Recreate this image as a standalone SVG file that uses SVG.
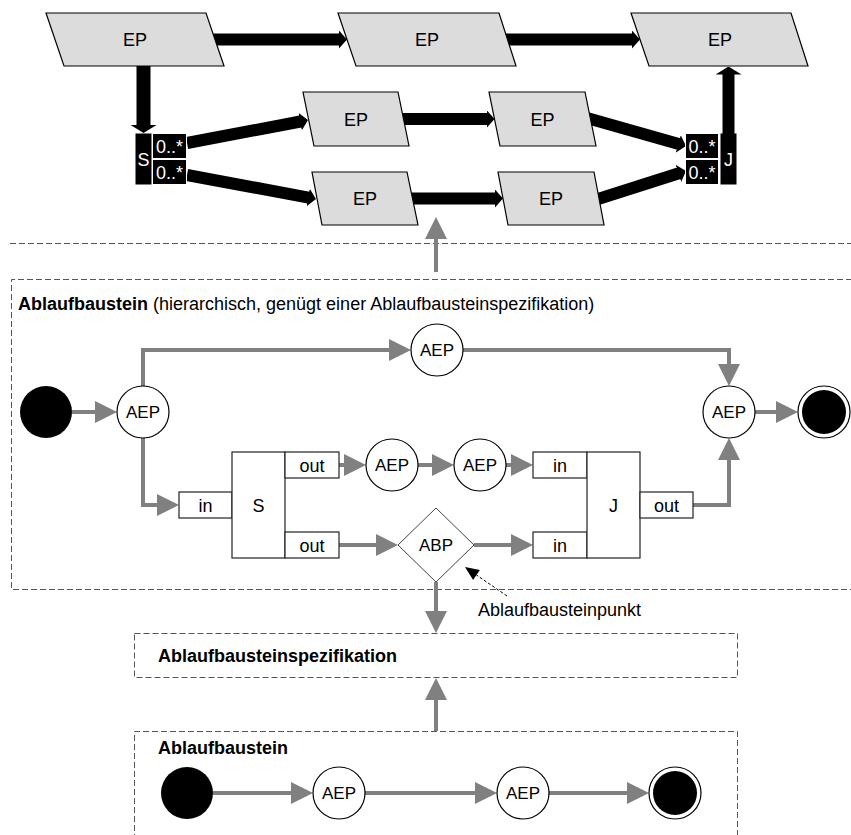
<svg xmlns="http://www.w3.org/2000/svg" width="851" height="835" viewBox="0 0 851 835">
<defs>
<style>
text{font-family:"Liberation Sans",Arial,Helvetica,sans-serif;font-size:18px;fill:#000}
.c{text-anchor:middle}
.w{fill:#fff}
.b{font-weight:bold}
.s17{font-size:17px}
.ep{fill:#dcdcdc;stroke:#000;stroke-width:1.2}
.blk{fill:#000;stroke:#fff;stroke-width:1}
.box{fill:#fff;stroke:#222;stroke-width:1.2}
.circ{fill:#fff;stroke:#000;stroke-width:1.2}
.dash{fill:none;stroke:#555;stroke-width:1;stroke-dasharray:6 3}
.thick{fill:none;stroke:#000;stroke-width:12;marker-end:url(#bh)}
.g{fill:none;stroke:#808080;stroke-width:4;marker-end:url(#ga)}
</style>
<marker id="ga" markerUnits="userSpaceOnUse" viewBox="0 0 22 22" markerWidth="22" markerHeight="22" refX="17" refY="11" orient="auto"><path d="M0,0 L22,11 L0,22 Z" fill="#808080"/></marker>
<marker id="bh" markerUnits="userSpaceOnUse" viewBox="0 0 8 18" markerWidth="8" markerHeight="18" refX="0.5" refY="9" orient="auto"><path d="M0,0 L8,9 L0,18 Z" fill="#000"/></marker>
<marker id="bv" markerUnits="userSpaceOnUse" viewBox="0 0 8 26" markerWidth="8" markerHeight="26" refX="0.5" refY="13" orient="auto"><path d="M0,0 L8,13 L0,26 Z" fill="#000"/></marker>
</defs>
<rect width="851" height="835" fill="#fff"/>

<g id="containers">
  <path class="dash" d="M10,243.5 H851"/>
  <path class="dash" d="M852,279.5 H11.5 V589.5 H852"/>
  <rect class="dash" x="134.5" y="633.5" width="603" height="44"/>
  <path class="dash" d="M134.5,840 V731.5 H737.5 V840"/>
</g>

<g id="connectors">
  <path class="thick" d="M210,39.5 H339.5"/>
  <path class="thick" d="M503,39.5 H632.5"/>
  <path d="M143.5,60 V125.5" fill="none" stroke="#000" stroke-width="14" marker-end="url(#bv)"/>
  <path d="M728.5,134 V74" fill="none" stroke="#000" stroke-width="12" marker-end="url(#bv)"/>
  <path class="thick" d="M187,143 L300.6,121.5"/>
  <path class="thick" d="M187,175 L308.6,197.6"/>
  <path class="thick" d="M400,119 H487"/>
  <path class="thick" d="M409,198.5 H495.5"/>
  <path class="thick" d="M587,118 L678.8,144"/>
  <path class="thick" d="M595,200 L678.9,173.3"/>

  <path class="g" d="M436,272 V222"/>
  <path class="g" d="M72,412 H112"/>
  <path class="g" d="M143,386 V350 H406"/>
  <path class="g" d="M463,350 H729 V381"/>
  <path class="g" d="M755,412 H793"/>
  <path class="g" d="M143,438 V505 H174"/>
  <path class="g" d="M339,465 H361"/>
  <path class="g" d="M418,465 H449"/>
  <path class="g" d="M506,465 H528"/>
  <path class="g" d="M693,505 H729 V443"/>
  <path class="g" d="M339,545 H393"/>
  <path class="g" d="M474,545 H528"/>
  <path class="g" d="M436,582 V628"/>
  <path class="g" d="M436,731 V683"/>
  <path class="g" d="M213,793 H308"/>
  <path class="g" d="M365,793 H492"/>
  <path class="g" d="M549,793 H644"/>

  <path d="M507,596 L476.5,575" fill="none" stroke="#000" stroke-width="1" stroke-dasharray="3 2"/>
  <polygon points="465,567 479.9,570.1 473.1,579.9" fill="#000"/>
</g>

<g id="ep1"><polygon class="ep" points="46,13 206,13 224,66 64,66"/><text class="c" x="135" y="46">EP</text></g>
<g id="ep2"><polygon class="ep" points="338,13 499,13 516,66 356,66"/><text class="c" x="427" y="46">EP</text></g>
<g id="ep3"><polygon class="ep" points="631,13 791,13 808,66 649,66"/><text class="c" x="720" y="46">EP</text></g>
<g id="ep4"><polygon class="ep" points="303,92 398,92 409,146 314,146"/><text class="c" x="356" y="125.5">EP</text></g>
<g id="ep5"><polygon class="ep" points="489,92 585,92 596,146 500,146"/><text class="c" x="542.5" y="125.5">EP</text></g>
<g id="ep6"><polygon class="ep" points="312,172 407,172 418,225 322,225"/><text class="c" x="365" y="205">EP</text></g>
<g id="ep7"><polygon class="ep" points="498,172 594,172 604,225 508,225"/><text class="c" x="551" y="205">EP</text></g>

<g id="split">
  <rect x="135.5" y="133.5" width="16" height="51" fill="#000"/>
  <text class="c w" x="143.5" y="165.5">S</text>
  <rect class="blk" x="152.5" y="133.5" width="34" height="25"/>
  <rect class="blk" x="152.5" y="159.5" width="34" height="25"/>
  <text class="w" x="156" y="152.5">0..*</text>
  <text class="w" x="156" y="178.5">0..*</text>
</g>
<g id="join">
  <rect class="blk" x="685.5" y="133.5" width="33" height="25"/>
  <rect class="blk" x="685.5" y="159.5" width="33" height="25"/>
  <rect x="720.5" y="133.5" width="16" height="51" fill="#000"/>
  <text class="w" x="688.5" y="152.5">0..*</text>
  <text class="w" x="688.5" y="178.5">0..*</text>
  <text class="c w" x="728.5" y="165.5">J</text>
</g>

<g id="title-mid"><text x="18" y="310"><tspan class="b">Ablaufbaustein</tspan> (hierarchisch, genügt einer Ablaufbausteinspezifikation)</text></g>

<g id="start1"><circle cx="46" cy="412" r="26" fill="#000"/></g>
<g id="aep1"><circle class="circ" cx="143" cy="412" r="26"/><text class="c s17" x="143" y="418">AEP</text></g>
<g id="aep2"><circle class="circ" cx="437" cy="350" r="26"/><text class="c s17" x="437" y="356">AEP</text></g>
<g id="aep3"><circle class="circ" cx="729" cy="412" r="26"/><text class="c s17" x="729" y="418">AEP</text></g>
<g id="end1"><circle class="circ" cx="824" cy="412" r="26"/><circle cx="824" cy="412" r="22" fill="#000"/></g>

<g id="split2">
  <rect class="box" x="179" y="492" width="53" height="26"/><text class="c" x="205.5" y="511.5">in</text>
  <rect class="box" x="232" y="452" width="53" height="106"/><text class="c" x="258.5" y="511.5">S</text>
  <rect class="box" x="285" y="452" width="54" height="26"/><text class="c" x="312" y="471.5">out</text>
  <rect class="box" x="285" y="532" width="54" height="26"/><text class="c" x="312" y="551.5">out</text>
</g>
<g id="aep4"><circle class="circ" cx="392" cy="465" r="26"/><text class="c s17" x="392" y="471">AEP</text></g>
<g id="aep5"><circle class="circ" cx="480" cy="465" r="26"/><text class="c s17" x="480" y="471">AEP</text></g>
<g id="abp"><polygon points="398,545 436,508 474,545 436,582" fill="#fff" stroke="#444" stroke-width="1"/><text class="c s17" x="436" y="551">ABP</text></g>
<g id="join2">
  <rect class="box" x="533" y="452" width="54" height="26"/><text class="c" x="560" y="471.5">in</text>
  <rect class="box" x="533" y="532" width="54" height="26"/><text class="c" x="560" y="551.5">in</text>
  <rect class="box" x="587" y="452" width="53" height="106"/><text class="c" x="613.5" y="511.5">J</text>
  <rect class="box" x="640" y="492" width="53" height="26"/><text class="c" x="666.5" y="511.5">out</text>
</g>
<g id="note"><text x="478" y="616">Ablaufbausteinpunkt</text></g>

<g id="spec"><text class="b" x="158" y="662">Ablaufbausteinspezifikation</text></g>
<g id="title-bottom"><text class="b" x="158" y="754">Ablaufbaustein</text></g>
<g id="start2"><circle cx="187" cy="793" r="26" fill="#000"/></g>
<g id="aep6"><circle class="circ" cx="339" cy="793" r="26"/><text class="c s17" x="339" y="799">AEP</text></g>
<g id="aep7"><circle class="circ" cx="523" cy="793" r="26"/><text class="c s17" x="523" y="799">AEP</text></g>
<g id="end2"><circle class="circ" cx="675" cy="793" r="26"/><circle cx="675" cy="793" r="22" fill="#000"/></g>
</svg>
